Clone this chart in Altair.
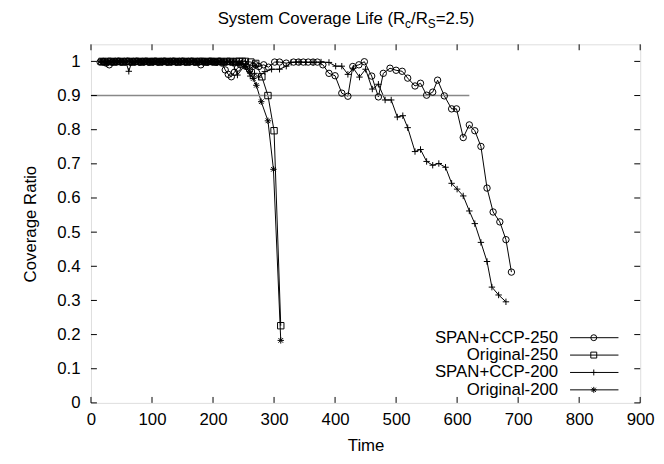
import altair as alt
import pandas as pd

# ---------------- data ----------------
series_names = ["SPAN+CCP-250", "Original-250", "SPAN+CCP-200", "Original-200"]

span250_t = [15, 20, 25, 30, 35, 40, 45, 50, 55, 60,
             65, 70, 75, 80, 85, 90, 95, 100, 105, 110,
             115, 120, 125, 130, 135, 140, 145, 150, 155, 160,
             165, 170, 175, 180, 185, 190, 195, 200, 205, 210,
             215, 220, 225, 230, 235, 240, 245, 250, 255, 260,
             265, 270, 275,
             283, 291, 301, 309, 320, 332, 340, 348, 356, 364,
             371, 380, 390, 400, 411, 421, 429, 439, 448, 460,
             471, 479, 490, 500, 510, 519, 531, 540, 550, 560,
             568, 579, 591, 599, 610, 620, 629, 639, 649, 659,
             670, 680, 689]
span250_r = [0.998, 1.0, 0.995, 0.99, 0.998, 1.0, 1.0, 0.998, 1.0, 1.0,
             0.998, 1.0, 1.0, 0.998, 1.0, 1.0, 0.998, 1.0, 1.0, 0.998,
             1.0, 1.0, 0.998, 1.0, 1.0, 0.998, 1.0, 1.0, 0.998, 1.0,
             1.0, 0.998, 1.0, 0.99, 1.0, 0.998, 1.0, 1.0, 0.998, 1.0,
             0.995, 0.975, 0.962, 0.955, 0.968, 0.98, 0.99, 0.995, 0.985, 0.975,
             0.985, 0.99, 0.985,
             0.99, 0.983, 0.998, 0.998, 0.995, 0.998, 0.998, 0.998, 0.998, 0.998,
             0.998, 0.99, 0.965, 0.958, 0.907, 0.898, 0.985, 0.99, 0.999, 0.957,
             0.896, 0.965, 0.98, 0.974, 0.971, 0.951, 0.928, 0.936, 0.901, 0.91,
             0.945, 0.899, 0.861, 0.861, 0.777, 0.814, 0.797, 0.751, 0.629, 0.559,
             0.53, 0.478, 0.383]

orig250_t = [18, 23, 28, 33, 38, 43, 48, 53, 58, 63,
             68, 73, 78, 83, 88, 93, 98, 103, 108, 113,
             118, 123, 128, 133, 138, 143, 148, 153, 158, 163,
             168, 173, 178, 183, 188, 193, 198, 203, 208, 213,
             218, 223, 228, 233, 238, 243, 248, 253,
             262, 270, 280, 290, 300, 311]
orig250_r = [1.0, 0.998, 1.0, 1.0, 0.998, 1.0, 1.0, 0.998, 1.0, 1.0,
             0.998, 1.0, 1.0, 0.998, 1.0, 1.0, 0.998, 1.0, 1.0, 0.998,
             1.0, 1.0, 0.998, 1.0, 1.0, 0.998, 1.0, 1.0, 0.998, 1.0,
             1.0, 0.998, 1.0, 1.0, 0.998, 1.0, 1.0, 0.998, 1.0, 1.0,
             0.998, 1.0, 1.0, 0.998, 1.0, 1.0, 1.0, 1.0,
             0.998, 0.994, 0.955, 0.9, 0.797, 0.226]

span200_t = [17, 22, 27, 32, 37, 42, 47, 52, 57, 62,
             67, 72, 77, 82, 87, 92, 97, 102, 107, 112,
             117, 122, 127, 132, 137, 142, 147, 152, 157, 162,
             167, 172, 177, 182, 187, 192, 197, 202, 207, 212,
             217, 222, 227, 232,
             240, 251, 261, 268, 275, 285, 296, 309, 320, 328,
             341, 352, 364, 377, 390, 401, 411, 421, 430, 440,
             450, 461, 471, 482, 492, 502, 511, 519, 531, 540,
             550, 560, 570, 581, 591, 600, 610, 620, 629, 639,
             649, 657, 668, 680]
span200_r = [0.998, 1.0, 1.0, 0.998, 1.0, 1.0, 0.998, 1.0, 1.0, 0.971,
             1.0, 0.998, 1.0, 1.0, 0.998, 1.0, 1.0, 0.998, 1.0, 1.0,
             0.998, 1.0, 1.0, 0.998, 1.0, 1.0, 0.998, 1.0, 1.0, 0.998,
             1.0, 1.0, 0.998, 1.0, 1.0, 0.998, 1.0, 1.0, 0.998, 1.0,
             0.998, 1.0, 0.998, 0.995,
             0.96, 0.986, 0.957, 0.965, 0.954, 0.97, 0.977, 0.977, 0.986, 0.997,
             0.998, 0.997, 0.997, 0.998, 0.997, 0.986, 0.986, 0.962, 0.98, 0.954,
             0.977, 0.919, 0.933, 0.887, 0.887, 0.837, 0.841, 0.806, 0.736, 0.742,
             0.707, 0.696, 0.701, 0.69, 0.643, 0.626, 0.606, 0.562, 0.525, 0.47,
             0.414, 0.339, 0.316, 0.296]

orig200_t = [16, 21, 26, 31, 36, 41, 46, 51, 56, 61,
             66, 71, 76, 81, 86, 91, 96, 101, 106, 111,
             116, 121, 126, 131, 136, 141, 146, 151, 156, 161,
             166, 171, 176, 181, 186, 191, 196, 201, 206, 211,
             216, 221, 226, 231, 236, 241, 246,
             253, 260, 266, 271, 279, 290, 299, 311]
orig200_r = [1.0, 1.0, 0.998, 1.0, 1.0, 0.998, 1.0, 1.0, 0.998, 1.0,
             1.0, 0.998, 1.0, 1.0, 0.998, 1.0, 1.0, 0.998, 1.0, 1.0,
             0.998, 1.0, 1.0, 0.998, 1.0, 1.0, 0.998, 1.0, 1.0, 0.998,
             1.0, 1.0, 0.998, 1.0, 1.0, 0.998, 1.0, 1.0, 0.998, 1.0,
             1.0, 0.998, 1.0, 0.998, 1.0, 0.995, 0.995,
             0.985, 0.97, 0.95, 0.93, 0.882, 0.826, 0.684, 0.183]

threshold = 0.9
threshold_end = 620

x_ticks = [0, 100, 200, 300, 400, 500, 600, 700, 800, 900]
y_ticks = [0, 0.1, 0.2, 0.3, 0.4, 0.5, 0.6, 0.7, 0.8, 0.9, 1.0]

# ---------------- table ----------------
rows = []
for name, ts, rs in [
    (series_names[0], span250_t, span250_r),
    (series_names[1], orig250_t, orig250_r),
    (series_names[2], span200_t, span200_r),
    (series_names[3], orig200_t, orig200_r),
]:
    assert len(ts) == len(rs), name
    for t, r in zip(ts, rs):
        rows.append({"series": name, "t": t, "ratio": r})
df = pd.DataFrame(rows)

# ---------------- layout / style ----------------
W, H = 556, 363
FONT = "Liberation Sans"
FS = 17

PLUS = "M-1,0L1,0M0,-1L0,1"
STAR = "M-1,0L1,0M0,-1L0,1M-0.72,-0.72L0.72,0.72M-0.72,0.72L0.72,-0.72"
shape_scale = alt.Scale(domain=series_names,
                        range=["circle", "square", PLUS, STAR])

xs = alt.Scale(domain=[0, 900], nice=False, zero=False)
ys = alt.Scale(domain=[0, 1.05], nice=False, zero=False)

x_axis = alt.Axis(values=x_ticks, tickCount=10, ticks=False, domain=False,
                  grid=False, labelFont=FONT, labelFontSize=FS,
                  labelColor="black", labelPadding=9, labelOverlap=False,
                  labelFlush=False, title="Time", titleFont=FONT,
                  titleFontSize=FS, titleFontWeight="normal",
                  titleColor="black", titlePadding=10)
y_axis = alt.Axis(values=y_ticks, tickCount=11, format=".1~f", ticks=False,
                  domain=False, grid=False, labelFont=FONT, labelFontSize=FS,
                  labelColor="black", labelPadding=11, labelOverlap=False,
                  labelFlush=False,
                  title="Coverage Ratio", titleFont=FONT, titleFontSize=FS,
                  titleFontWeight="normal", titleColor="black",
                  titlePadding=18)

# identical positional encodings shared by every data-space layer
X_T = alt.X("t:Q", scale=xs, axis=x_axis, title="Time")
Y_R = alt.Y("ratio:Q", scale=ys, axis=y_axis, title="Coverage Ratio")

lines = alt.Chart(df).mark_line(color="black", strokeWidth=1).encode(
    x=X_T, y=Y_R, detail="series:N", order="t:Q",
)

points = alt.Chart(df).mark_point(filled=False, color="black", size=42,
                                  strokeWidth=1, opacity=1).encode(
    x=X_T, y=Y_R,
    shape=alt.Shape("series:N", scale=shape_scale, legend=None),
)

thr_df = pd.DataFrame({"t": [0], "t1": [threshold_end], "ratio": [threshold]})
thr = alt.Chart(thr_df).mark_rule(color="#888888", strokeWidth=1.5).encode(
    x=X_T, x2="t1:Q", y=Y_R,
)

# inward ticks (gnuplot style, mirrored)
xt_df = pd.DataFrame({"t": x_ticks})
yt_df = pd.DataFrame({"ratio": y_ticks})
TL = 6
xt_bottom = alt.Chart(xt_df).mark_rule(color="black").encode(
    x=X_T, y=alt.value(H), y2=alt.value(H - TL))
xt_top = alt.Chart(xt_df).mark_rule(color="black").encode(
    x=X_T, y=alt.value(0), y2=alt.value(TL))
yt_left = alt.Chart(yt_df).mark_rule(color="black").encode(
    y=Y_R, x=alt.value(0), x2=alt.value(TL))
yt_right = alt.Chart(yt_df).mark_rule(color="black").encode(
    y=Y_R, x=alt.value(W - TL), x2=alt.value(W))

# legend (label left, sample right, like gnuplot)
leg_df = pd.DataFrame({"series": series_names, "ly": [297, 314.6, 332.2, 349.8]})
LY = alt.Y("ly:Q", scale=None, axis=None)
leg_text = alt.Chart(leg_df).mark_text(align="right", baseline="middle",
                                       font=FONT, fontSize=FS, color="black").encode(
    x=alt.value(473), y=LY, text="series:N")
leg_line = alt.Chart(leg_df).mark_rule(color="black", strokeWidth=1).encode(
    x=alt.value(485), x2=alt.value(534), y=LY)
leg_pt = alt.Chart(leg_df).mark_point(filled=False, color="black", size=36,
                                      strokeWidth=1, opacity=1).encode(
    x=alt.value(509), y=LY,
    shape=alt.Shape("series:N", scale=shape_scale, legend=None))

# title with subscripts
title_df = pd.DataFrame({"k": [0]})
def tpiece(txt, xpos, dy, size, align="left"):
    return alt.Chart(title_df).mark_text(
        text=txt, align=align, baseline="alphabetic", font=FONT,
        fontSize=size, color="black").encode(
        x=alt.value(xpos), y=alt.value(-21 + dy))

TS = 17
SUB = 12
split = 318
title_layers = [
    tpiece("System Coverage Life (R", split, 0, TS, align="right"),
    tpiece("c", split, 4, SUB),
    tpiece("/R", split + 6, 0, TS),
    tpiece("S", split + 6 + 17, 4, SUB),
    tpiece("=2.5)", split + 6 + 17 + 8, 0, TS),
]

chart = alt.layer(
    lines, thr, points, xt_bottom, xt_top, yt_left, yt_right,
    leg_text, leg_line, leg_pt, *title_layers
).properties(
    width=W, height=H,
    padding={"left": 84, "top": 34, "right": 16, "bottom": 51},
    autosize=alt.AutoSizeParams(type="none"),
).configure_view(stroke="black", strokeWidth=1).configure(background="white")

chart.save("out.html", embed_options={"renderer": "svg", "actions": False})
